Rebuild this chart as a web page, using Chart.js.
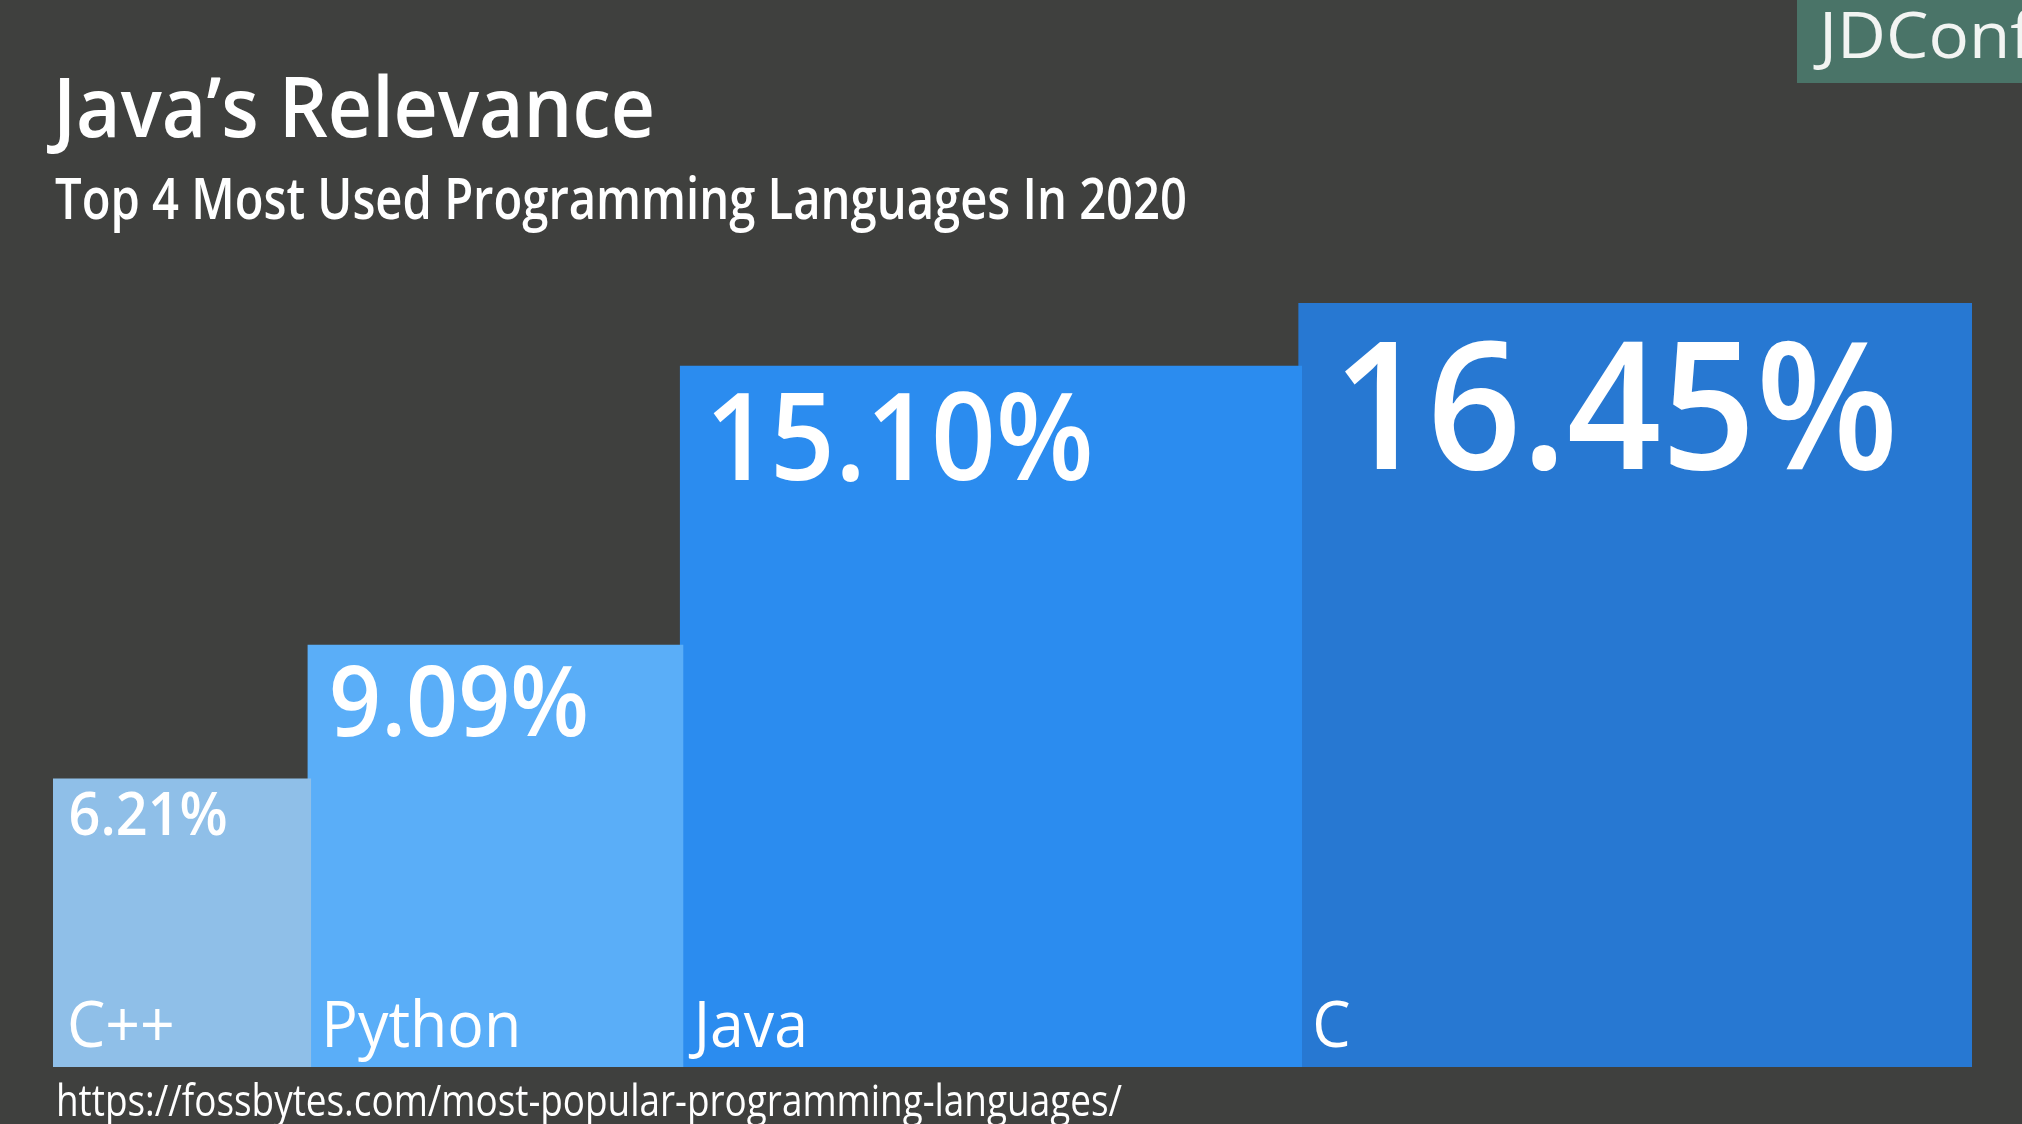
<!DOCTYPE html>
<html>
<head>
<meta charset="utf-8">
<script src="https://cdn.jsdelivr.net/npm/chart.js@4/dist/chart.umd.min.js"></script>
<style>
  html, body { margin: 0; padding: 0; background: #3f403e; }
  #wrap { width: 2022px; height: 1124px; }
</style>
</head>
<body>
<div id="wrap"><canvas id="c" width="2022" height="1124"></canvas></div>
<script>
// ---- data ----
const categories = ['C++', 'Python', 'Java', 'C'];
const shares = [6.21, 9.09, 15.10, 16.45];
const valueLabels = ['6.21%', '9.09%', '15.10%', '16.45%'];
const titleText = 'Java’s Relevance';
const subtitleText = 'Top 4 Most Used Programming Languages In 2020';
const sourceText = 'https://fossbytes.com/most-popular-programming-languages/';
const brandText = 'JDConf';

// ---- styles ----
const barColors = ['#8fbfe8', '#5aaef8', '#2b8cef', '#2778d2'];
const valueFontSizes = [60, 98, 122, 220];
const FONT = '"Open Sans", "Noto Sans", sans-serif';
const BG = '#3f403e';

// variable-width bars: each bar spans its own share along x
const ends = [];
shares.reduce((acc, v, i) => { ends[i] = acc + v; return acc + v; }, 0);
const starts = ends.map((e, i) => e - shares[i]);
const total = ends[ends.length - 1];
// tiny overlap under the next (taller) bar to avoid anti-aliasing seams
const seam = total * 0.002;

const datasets = categories.map((cat, i) => ({
  label: cat,
  data: [
    { x: starts[i], y: shares[i] },
    { x: i < categories.length - 1 ? ends[i] + seam : ends[i], y: shares[i] }
  ],
  backgroundColor: barColors[i],
  borderColor: 'rgba(0,0,0,0)',
  borderWidth: 0,
  pointRadius: 0,
  pointHoverRadius: 0,
  fill: 'origin',
  tension: 0
}));

function drawFit(ctx, text, x, y, font, targetW, color) {
  ctx.save();
  ctx.font = font;
  const w = ctx.measureText(text).width;
  const s = targetW ? targetW / w : 1;
  ctx.translate(x, y);
  ctx.scale(s, 1);
  ctx.fillStyle = color;
  ctx.textBaseline = 'alphabetic';
  ctx.textAlign = 'left';
  ctx.fillText(text, 0, 0);
  ctx.restore();
}

const decor = {
  id: 'decor',
  beforeDraw(chart) {
    const ctx = chart.ctx;
    ctx.save();
    ctx.fillStyle = BG;
    ctx.fillRect(0, 0, chart.width, chart.height);
    // brand box
    ctx.fillStyle = '#4a7468';
    ctx.fillRect(1797, 0, chart.width - 1797, 83);
    ctx.restore();
    drawFit(ctx, brandText, 1819, 58, '400 64px ' + FONT, 214, '#f2f4f2');
    drawFit(ctx, titleText, 53, 137, '600 84px ' + FONT, 602, '#ffffff');
    drawFit(ctx, subtitleText, 55, 219, '600 58px ' + FONT, 1132, '#ffffff');
    drawFit(ctx, sourceText, 56, 1116, '400 43px ' + FONT, 1066, '#ffffff');
  },
  afterDatasetsDraw(chart) {
    const ctx = chart.ctx;
    const xs = chart.scales.x, ys = chart.scales.y;
    const base = ys.getPixelForValue(0);
    categories.forEach((cat, i) => {
      const x0 = xs.getPixelForValue(starts[i]);
      const x1 = xs.getPixelForValue(ends[i]);
      const top = ys.getPixelForValue(shares[i]);
      const bw = x1 - x0;
      // value label
      let f = valueFontSizes[i];
      const squeeze = 0.93;
      ctx.font = '600 ' + f + 'px ' + FONT;
      let w = ctx.measureText(valueLabels[i]).width * squeeze;
      const maxW = bw * 0.84;
      if (w > maxW) { f = f * maxW / w; }
      ctx.font = '600 ' + f + 'px ' + FONT;
      w = ctx.measureText(valueLabels[i]).width * squeeze;
      const cap = 0.714 * f;
      const vy = top + 0.22 * f + cap;
      drawFit(ctx, valueLabels[i], x0 + 0.16 * f + 6, vy, '600 ' + f + 'px ' + FONT, w, '#ffffff');
      // category label
      ctx.font = '400 64px ' + FONT;
      const cw = ctx.measureText(cat).width * 0.95;
      drawFit(ctx, cat, x0 + 14, base - 20, '400 64px ' + FONT, cw, '#ffffff');
    });
  }
};

new Chart(document.getElementById('c'), {
  type: 'line',
  data: { datasets },
  options: {
    responsive: false,
    animation: false,
    devicePixelRatio: 1,
    layout: { padding: { left: 53, right: 50, top: 303, bottom: 57 } },
    scales: {
      x: { type: 'linear', min: 0, max: total, display: false },
      y: { type: 'linear', min: 0, max: Math.max(...shares), display: false }
    },
    plugins: {
      legend: { display: false },
      tooltip: { enabled: false },
      title: { display: false }
    },
    events: []
  },
  plugins: [decor]
});
</script>
</body>
</html>
